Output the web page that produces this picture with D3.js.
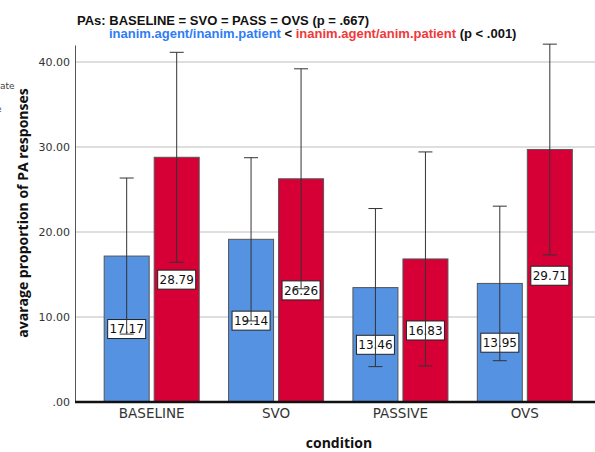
<!DOCTYPE html>
<meta charset="utf-8">
<style>
body { margin: 0; background: #fff; }
svg { display: block; }
.tick text { font: 11px "DejaVu Sans"; fill: #333; }
</style>
<body>
<script src="https://cdn.jsdelivr.net/npm/d3@7"></script>
<script>

// data
var categories = ["BASELINE", "SVO", "PASSIVE", "OVS"];
var series = ["inanimPatient", "animPatient"];
var meanInanim = [17.17, 19.14, 13.46, 13.95];
var meanAnim = [28.79, 26.26, 16.83, 29.71];
var lowInanim = [7.99, 9.54, 4.16, 4.86];
var highInanim = [26.35, 28.74, 22.76, 23.04];
var lowAnim = [16.44, 13.32, 4.24, 17.30];
var highAnim = [41.14, 39.20, 29.42, 42.10];
var yTicks = [0, 10, 20, 30, 40];

var colors = { inanimPatient: "#5592e2", animPatient: "#d60036" };

var rows = [];
categories.forEach(function(c, i) {
    rows.push({ cat: c, s: "inanimPatient", v: meanInanim[i], lo: lowInanim[i], hi: highInanim[i] });
    rows.push({ cat: c, s: "animPatient", v: meanAnim[i], lo: lowAnim[i], hi: highAnim[i] });
});

var W = 595, H = 452;
var plotLeft = 75, plotRight = 595, plotTop = 45, plotBottom = 402;

var svg = d3.select("body").append("svg")
    .attr("width", W)
    .attr("height", H);

var y = d3.scaleLinear().domain([0, 42]).range([plotBottom, plotTop]);

var x0 = d3.scaleBand().domain(categories)
    .range([89.5, 587])
    .paddingInner(0.236)
    .paddingOuter(0.118);

var x1 = d3.scaleBand().domain(series)
    .range([0, x0.bandwidth()])
    .paddingInner(0.1);

// gridlines
svg.append("g").selectAll("line")
    .data(yTicks.slice(1))
  .enter().append("line")
    .attr("x1", plotLeft).attr("x2", plotRight)
    .attr("y1", function(d) { return y(d); })
    .attr("y2", function(d) { return y(d); })
    .attr("stroke", "#d3d3d3")
    .attr("stroke-width", 1.5);

// bars
svg.append("g").selectAll("rect")
    .data(rows)
  .enter().append("rect")
    .attr("x", function(d) { return x0(d.cat) + x1(d.s); })
    .attr("y", function(d) { return y(d.v); })
    .attr("width", x1.bandwidth())
    .attr("height", function(d) { return y(0) - y(d.v); })
    .attr("fill", function(d) { return colors[d.s]; })
    .attr("stroke", "#555")
    .attr("stroke-width", 1);

function cx(d) { return x0(d.cat) + x1(d.s) + x1.bandwidth() / 2; }

// value labels
var lab = svg.append("g").selectAll("g")
    .data(rows)
  .enter().append("g")
    .attr("transform", function(d) { return "translate(" + cx(d) + "," + y(d.v / 2) + ")"; });

lab.append("rect")
    .attr("x", -19).attr("y", -9.5)
    .attr("width", 38).attr("height", 19)
    .attr("fill", "#fff")
    .attr("stroke", "#222")
    .attr("stroke-width", 1);

lab.append("text")
    .attr("text-anchor", "middle")
    .attr("dy", "0.36em")
    .style("font", "12px 'DejaVu Sans'")
    .attr("fill", "#111")
    .text(function(d) { return d.v.toFixed(2); });

// error bars
var eb = svg.append("g").attr("stroke", "#333").attr("stroke-width", 1);
eb.selectAll(".v")
    .data(rows)
  .enter().append("line")
    .attr("x1", cx).attr("x2", cx)
    .attr("y1", function(d) { return y(d.lo); })
    .attr("y2", function(d) { return y(d.hi); });
eb.selectAll(".hi")
    .data(rows)
  .enter().append("line")
    .attr("x1", function(d) { return cx(d) - 7; })
    .attr("x2", function(d) { return cx(d) + 7; })
    .attr("y1", function(d) { return y(d.hi); })
    .attr("y2", function(d) { return y(d.hi); });
eb.selectAll(".lo")
    .data(rows)
  .enter().append("line")
    .attr("x1", function(d) { return cx(d) - 7; })
    .attr("x2", function(d) { return cx(d) + 7; })
    .attr("y1", function(d) { return y(d.lo); })
    .attr("y2", function(d) { return y(d.lo); });

// y axis
var yAxis = d3.axisLeft(y)
    .tickValues(yTicks)
    .tickSize(0)
    .tickPadding(5)
    .tickFormat(function(d) { return d === 0 ? ".00" : d.toFixed(2); });

var gy = svg.append("g")
    .attr("transform", "translate(" + plotLeft + ",0)")
    .call(yAxis);
gy.select(".domain").attr("stroke", "#555");

// x axis
var xAxis = d3.axisBottom(x0).tickSize(0).tickPadding(6);
var gx = svg.append("g")
    .attr("transform", "translate(0," + plotBottom + ")")
    .call(xAxis);
gx.select(".domain").remove();
gx.selectAll(".tick text").style("font", "13.5px 'DejaVu Sans'").attr("fill", "#222");

svg.append("line")
    .attr("x1", plotLeft).attr("x2", plotRight)
    .attr("y1", plotBottom).attr("y2", plotBottom)
    .attr("stroke", "#111")
    .attr("stroke-width", 2.5);

// axis titles
svg.append("text")
    .attr("text-anchor", "middle")
    .attr("x", 339)
    .attr("y", 448)
    .style("font", "bold 14px 'Open Sans'")
    .attr("fill", "#111")
    .text("condition");

svg.append("text")
    .attr("text-anchor", "middle")
    .attr("transform", "translate(28,213) rotate(-90)")
    .style("font", "bold 14px 'Open Sans'")
    .attr("fill", "#111")
    .text("avarage proportion of PA responses");

// clipped legend remnants at the left edge
svg.append("text").attr("x", 0).attr("y", 89)
    .style("font", "9px 'DejaVu Sans'").attr("fill", "#444").text("ate");
svg.append("text").attr("x", -4).attr("y", 112)
    .style("font", "9px 'DejaVu Sans'").attr("fill", "#444").text("e");

// title
svg.append("text")
    .attr("x", 77).attr("y", 25)
    .style("font", "bold 13px 'Liberation Sans'")
    .attr("fill", "#111")
    .text("PAs: BASELINE = SVO = PASS = OVS (p = .667)");

var t2 = svg.append("text")
    .attr("x", 109).attr("y", 38)
    .style("font", "bold 13px 'Liberation Sans'");
t2.append("tspan").attr("fill", "#2f7cf6").text("inanim.agent/inanim.patient");
t2.append("tspan").attr("fill", "#111").text(" <  ");
t2.append("tspan").attr("fill", "#f0383b").text("inanim.agent/anim.patient");
t2.append("tspan").attr("fill", "#111").text(" (p < .001)");

</script>
</body>
